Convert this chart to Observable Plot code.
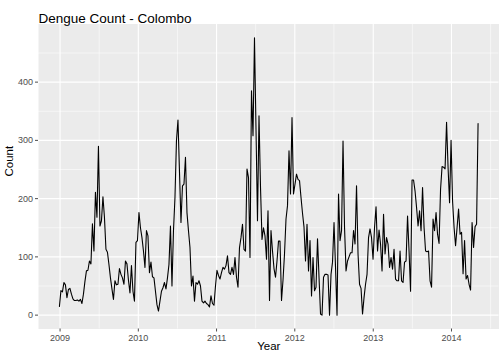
<!DOCTYPE html>
<html><head><meta charset="utf-8">
<script src="https://cdn.jsdelivr.net/npm/d3@7"></script>
<script src="https://cdn.jsdelivr.net/npm/@observablehq/plot@0.6"></script>
<style>body{margin:0;background:#fff;}</style>
</head><body><div id="chart"></div>
<script>
// Weekly dengue counts, Colombo (first week starts 2008-12-29)
const startWeek = "2008-12-29";
const counts2009 = [15,42,40,56,52,30,44,46,36,28,25,25,26,24,27,20,36,58,76,77,93,88,157,110,211,168,290,153,162,203,168,113,108,87,64,45,27,59,52,53,80,70,64,53,93,88,60,38,85,41,24,125];
const counts2010 = [128,176,150,133,110,82,145,136,73,91,66,64,41,18,7,24,41,47,56,45,64,87,153,50,145,202,300,335,247,159,222,225,271,176,145,116,50,67,24,56,53,59,50,24,21,24,20,18,14,33,20,17];
const counts2011 = [50,77,68,62,73,82,79,85,102,73,70,82,70,99,65,48,116,133,156,113,110,251,236,99,385,308,476,319,162,342,220,130,150,136,96,179,25,145,110,80,65,93,127,127,25,60,105,165,188,282,208,339];
const counts2012 = [208,225,242,233,231,202,175,151,93,156,76,128,33,99,42,48,131,65,2,0,65,70,70,69,0,70,91,159,82,0,208,128,145,299,151,76,93,100,107,107,145,122,222,105,53,46,2,30,53,70,133,148];
const counts2013 = [133,96,151,186,110,146,122,76,173,105,133,122,82,99,79,113,62,59,59,110,59,56,91,93,170,110,41,232,232,213,185,153,179,145,219,151,110,109,110,59,48,165,145,176,139,123,216,255,254,251,331,254];
const counts2014 = [193,300,196,151,119,150,182,139,142,71,128,62,68,53,43,159,116,152,156,329];

const xTickLabels = ["2009","2010","2011","2012","2013","2014"];
const yTicks = [0,100,200,300,400];
const yMinor = [50,150,250,350,450];

const counts = [].concat(counts2009, counts2010, counts2011, counts2012, counts2013, counts2014);
const start = new Date(startWeek);
const data = counts.map((c, i) => ({date: d3.utcDay.offset(start, 7 * i), count: c}));

const xt = xTickLabels.map(y => new Date(`${y}-01-01`));
const xMinor = xt.map(d => new Date(+d + 182.5 * 864e5));

const [d0, d1] = d3.extent(data, d => d.date);
const span = d1 - d0;
const xDomain = [new Date(+d0 - 0.05 * span), new Date(+d1 + 0.05 * span)];
const [c0, c1] = d3.extent(counts);
const yDomain = [c0 - 0.05 * (c1 - c0), c1 + 0.05 * (c1 - c0)];

const font = "Liberation Sans, Arial, Helvetica, sans-serif";
const chart = Plot.plot({
  width: 504, height: 360,
  marginLeft: 38, marginRight: 5.5, marginTop: 23.5, marginBottom: 31.5,
  style: {fontFamily: font, background: "#fff"},
  x: {type: "utc", domain: xDomain},
  y: {domain: yDomain},
  marks: [
    Plot.frame({fill: "#EBEBEB", stroke: "none"}),
    Plot.ruleX(xMinor.filter(d => d >= xDomain[0] && d <= xDomain[1]), {stroke: "white", strokeWidth: 0.55}),
    Plot.ruleY(yMinor.filter(v => v <= yDomain[1]), {stroke: "white", strokeWidth: 0.55}),
    Plot.ruleX(xt, {stroke: "white", strokeWidth: 1.1}),
    Plot.ruleY(yTicks, {stroke: "white", strokeWidth: 1.1}),
    Plot.line(data, {x: "date", y: "count", stroke: "black", strokeWidth: 1.1}),
    Plot.axisX({ticks: xt, tickFormat: d3.utcFormat("%Y"), tickSize: 3, tickPadding: 3, fontSize: 9, color: "#4D4D4D", label: null}),
    Plot.axisY({ticks: yTicks, tickSize: 3, tickPadding: 2.5, fontSize: 9, color: "#4D4D4D", label: null}),
    Plot.text(["Year"], {frameAnchor: "bottom", dy: 21, fontSize: 11.5, fill: "black"}),
    Plot.text(["Count"], {frameAnchor: "left", dx: -29, rotate: -90, fontSize: 11.5, fill: "black"}),
    Plot.text(["Dengue Count - Colombo"], {frameAnchor: "top-left", dx: 0, dy: -11, textAnchor: "start", fontSize: 13.5, fill: "black"})
  ]
});
document.getElementById("chart").appendChild(chart);
</script>
</body></html>
